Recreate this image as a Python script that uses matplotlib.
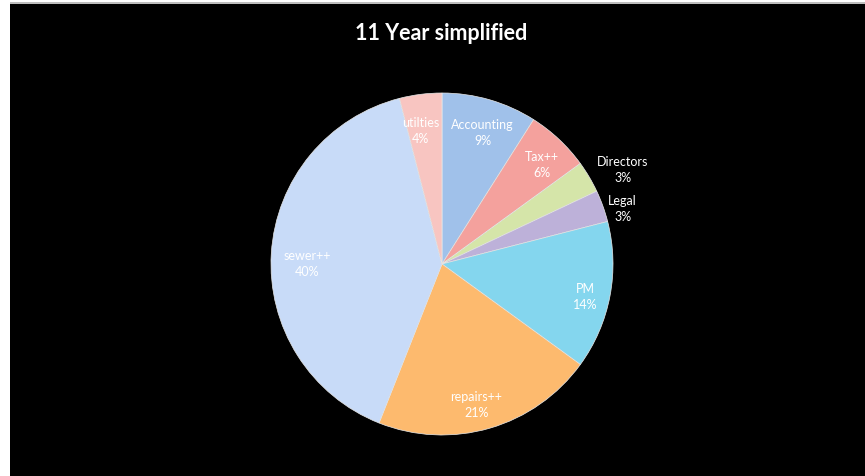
import matplotlib
matplotlib.use('Agg')
import matplotlib.pyplot as plt
from matplotlib.patches import Rectangle
import numpy as np

# slice data, clockwise from 12 o'clock
labels = ['Accounting', 'Tax++', 'Directors', 'Legal', 'PM', 'repairs++', 'sewer++', 'utilties']
shares = [9, 6, 3, 3, 14, 21, 40, 4]
colors = ['#a0c1ea', '#f4a19d', '#d5e5a9', '#bdb1d9', '#84d6ee', '#fdba6e', '#c8dbf8', '#f8c5c1']

# label placement (radius factor and angle nudge in degrees)
label_r = [0.80, 0.82, 1.19, 1.105, 0.86, 0.85, 0.79, 0.79]
label_nudge = [-1, -2, -3.2, -2.8, -2.2, -2.5, 3.6, 1.8]

plt.rcParams['font.family'] = ['Lato', 'DejaVu Sans']

fig = plt.figure(figsize=(8.65, 4.76), dpi=100, facecolor='black')

# white strip on the left and top, thin grey rule at the top
fig.patches.append(Rectangle((0, 0), 10 / 865, 1, transform=fig.transFigure,
                             facecolor='white', edgecolor='none', zorder=0))
fig.patches.append(Rectangle((0, 1 - 2 / 476), 1, 2 / 476, transform=fig.transFigure,
                             facecolor='white', edgecolor='none', zorder=0))
fig.patches.append(Rectangle((10 / 865, 1 - 3.5 / 476), 1, 1.5 / 476, transform=fig.transFigure,
                             facecolor='#bdbdbd', edgecolor='none', zorder=0))

# pie centre (442, 264) px, radius 171 px
lim = 1.25
size = 2 * lim * 171
ax = fig.add_axes([(442 - size / 2) / 865, (476 - 264 - size / 2) / 476, size / 865, size / 476])
ax.set_facecolor('none')

wedges, _ = ax.pie(shares, colors=colors, startangle=90, counterclock=False,
                   wedgeprops=dict(edgecolor='#e8e8e8', linewidth=0.5))
ax.set_xlim(-lim, lim)
ax.set_ylim(-lim, lim)
ax.set_aspect('equal')
ax.axis('off')

for w, lab, s, r, nd in zip(wedges, labels, shares, label_r, label_nudge):
    ang = np.deg2rad((w.theta1 + w.theta2) / 2 + nd)
    ax.text(r * np.cos(ang), r * np.sin(ang), f'{lab}\n{s}%', ha='center', va='center',
            color='white', fontsize=9, linespacing=1.4)

fig.text(441 / 865, 1 - 33 / 476, '11 Year simplified', ha='center', va='center',
         color='white', fontsize=15.5, fontweight='bold')

fig.savefig('out.png', dpi=100, facecolor=fig.get_facecolor())
